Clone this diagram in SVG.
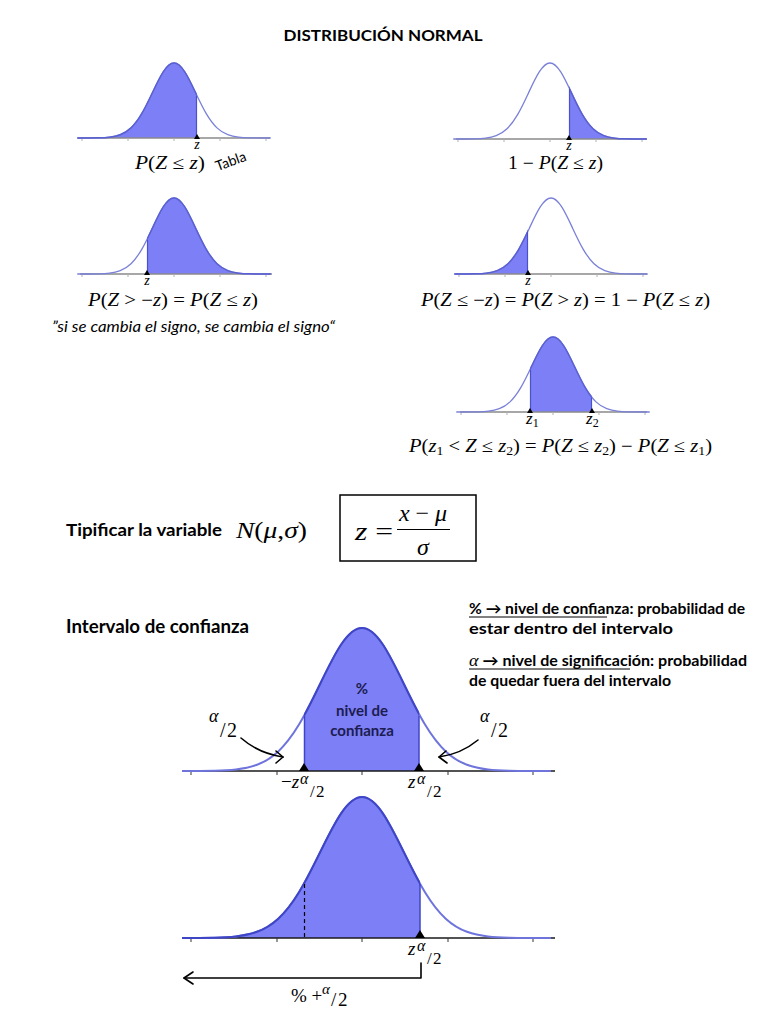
<svg xmlns="http://www.w3.org/2000/svg" xmlns:xlink="http://www.w3.org/1999/xlink" width="768" height="1024" viewBox="0 0 768 1024">
<style>
.bg{fill:#ffffff}
.fillA{fill:#7c7ff5;stroke:none}
.curveS{fill:none;stroke:#7a80d8;stroke-width:1.3}
.curveSd{fill:none;stroke:#5a60d2;stroke-width:1.5}
.curveB{fill:none;stroke:#6e74dc;stroke-width:2}
.curveBd{fill:none;stroke:#3f46c6;stroke-width:2}
.axisS{stroke:#8a8a8a;stroke-width:1.3;fill:none}
.axisB{stroke:#1a1a1a;stroke-width:1.5;fill:none}
.tickS{stroke:#b0b0b0;stroke-width:1}
.tickB{stroke:#333;stroke-width:1}
.tri{fill:#000}
.m{font-family:"Liberation Serif","DejaVu Serif",serif;fill:#000}
.i{font-style:italic}
.b{font-family:Lato,"Liberation Sans",sans-serif;font-weight:bold;fill:#000}
.s{font-family:Lato,"Liberation Sans",sans-serif;fill:#000}
.lbl{font-family:Lato,"Liberation Sans",sans-serif;font-weight:bold;font-size:15px;fill:#1c1c50;text-anchor:middle}
.arr{fill:none;stroke:#000;stroke-width:1.6;stroke-linecap:round;stroke-linejoin:round}
.cut{stroke:#4b51cc;stroke-width:1.2}
</style>
<defs>
<path id="g" vector-effect="non-scaling-stroke" d="M -4.5 0 C -4.1667 0 -3.8333 -0.0005 -3.5 -0.0022 C -3.3333 -0.0035 -3.1667 -0.0055 -3 -0.0111 C -2.8333 -0.0167 -2.6667 -0.0256 -2.5 -0.0439 C -2.3333 -0.0622 -2.1667 -0.0902 -2 -0.1353 C -1.8333 -0.1804 -1.6667 -0.2435 -1.5 -0.3247 C -1.3333 -0.4059 -1.1667 -0.5054 -1 -0.6065 C -0.8333 -0.7076 -0.6667 -0.8090 -0.5 -0.8825 C -0.3333 -0.9560 -0.1667 -1 0 -1 C 0.1667 -1 0.3333 -0.9560 0.5 -0.8825 C 0.6667 -0.8090 0.8333 -0.7076 1 -0.6065 C 1.1667 -0.5054 1.3333 -0.4059 1.5 -0.3247 C 1.6667 -0.2435 1.8333 -0.1804 2 -0.1353 C 2.1667 -0.0902 2.3333 -0.0622 2.5 -0.0439 C 2.6667 -0.0256 2.8333 -0.0167 3 -0.0111 C 3.1667 -0.0055 3.3333 -0.0035 3.5 -0.0022 C 3.8333 -0.0005 4.1667 0 4.5 0"/>
<path id="gf" d="M -4.5 0 C -4.1667 0 -3.8333 -0.0005 -3.5 -0.0022 C -3.3333 -0.0035 -3.1667 -0.0055 -3 -0.0111 C -2.8333 -0.0167 -2.6667 -0.0256 -2.5 -0.0439 C -2.3333 -0.0622 -2.1667 -0.0902 -2 -0.1353 C -1.8333 -0.1804 -1.6667 -0.2435 -1.5 -0.3247 C -1.3333 -0.4059 -1.1667 -0.5054 -1 -0.6065 C -0.8333 -0.7076 -0.6667 -0.8090 -0.5 -0.8825 C -0.3333 -0.9560 -0.1667 -1 0 -1 C 0.1667 -1 0.3333 -0.9560 0.5 -0.8825 C 0.6667 -0.8090 0.8333 -0.7076 1 -0.6065 C 1.1667 -0.5054 1.3333 -0.4059 1.5 -0.3247 C 1.6667 -0.2435 1.8333 -0.1804 2 -0.1353 C 2.1667 -0.0902 2.3333 -0.0622 2.5 -0.0439 C 2.6667 -0.0256 2.8333 -0.0167 3 -0.0111 C 3.1667 -0.0055 3.3333 -0.0035 3.5 -0.0022 C 3.8333 -0.0005 4.1667 0 4.5 0 Z"/>
<clipPath id="c1"><rect x="0" y="0" width="197" height="200"/></clipPath>
<clipPath id="c2"><rect x="569" y="0" width="199" height="200"/></clipPath>
<clipPath id="c3"><rect x="147" y="180" width="200" height="100"/></clipPath>
<clipPath id="c4"><rect x="400" y="180" width="128" height="100"/></clipPath>
<clipPath id="c5"><rect x="530" y="320" width="62" height="100"/></clipPath>
<clipPath id="cA"><rect x="304" y="600" width="115" height="175"/></clipPath>
<clipPath id="cB"><rect x="182" y="780" width="238" height="160"/></clipPath>
<clipPath id="cX"><rect x="182" y="600" width="373" height="360"/></clipPath>
</defs>
<rect class="bg" x="0" y="0" width="768" height="1024"/>

<text id="title" class="b" x="383" y="41" font-size="16" text-anchor="middle" textLength="199" lengthAdjust="spacingAndGlyphs">DISTRIBUCIÓN NORMAL</text>

<!-- Panel 1 -->
<g id="panel1">
  <g clip-path="url(#c1)"><use href="#gf" class="fillA" transform="translate(174,138) scale(21.5,75)"/></g>
  <line class="axisS" x1="78" y1="138" x2="270" y2="138"/>
  <path class="tickS" d="M82 138v3M128 138v3M174 138v3M220 138v3M266 138v3"/>
  <use href="#g" class="curveS" transform="translate(174,138) scale(21.5,75)"/>
  <g clip-path="url(#c1)"><use href="#g" class="curveSd" transform="translate(174,138) scale(21.5,75)"/></g>
  <line class="cut" x1="196.5" y1="96" x2="196.5" y2="138"/>
  <polygon class="tri" points="197,134 194,139 200,139"/>
  <text class="m i" x="197" y="149" font-size="14" text-anchor="middle">z</text>
  <text class="m" x="135" y="169" font-size="18" textLength="70" lengthAdjust="spacingAndGlyphs"><tspan class="i">P</tspan>(<tspan class="i">Z</tspan> ≤ <tspan class="i">z</tspan>)</text>
  <text class="s" x="231" y="166" font-size="14" text-anchor="middle" transform="rotate(-20 231 162)">Tabla</text>
</g>

<!-- Panel 2 -->
<g id="panel2">
  <g clip-path="url(#c2)"><use href="#gf" class="fillA" transform="translate(550,139) scale(21.5,76)"/></g>
  <line class="axisS" x1="456" y1="139" x2="647" y2="139"/>
  <path class="tickS" d="M458 139v3M504 139v3M550 139v3M596 139v3M642 139v3"/>
  <use href="#g" class="curveS" transform="translate(550,139) scale(21.5,76)"/>
  <g clip-path="url(#c2)"><use href="#g" class="curveSd" transform="translate(550,139) scale(21.5,76)"/></g>
  <line class="cut" x1="569.5" y1="89" x2="569.5" y2="139"/>
  <polygon class="tri" points="569,135 566,140 572,140"/>
  <text class="m i" x="569" y="150" font-size="14" text-anchor="middle">z</text>
  <text class="m" x="508" y="169" font-size="18" textLength="95" lengthAdjust="spacingAndGlyphs">1 − <tspan class="i">P</tspan>(<tspan class="i">Z</tspan> ≤ <tspan class="i">z</tspan>)</text>
</g>

<!-- Panel 3 -->
<g id="panel3">
  <g clip-path="url(#c3)"><use href="#gf" class="fillA" transform="translate(174,274) scale(21.5,76)"/></g>
  <line class="axisS" x1="80" y1="274" x2="272" y2="274"/>
  <path class="tickS" d="M82 274v3M128 274v3M174 274v3M220 274v3M266 274v3"/>
  <use href="#g" class="curveS" transform="translate(174,274) scale(21.5,76)"/>
  <g clip-path="url(#c3)"><use href="#g" class="curveSd" transform="translate(174,274) scale(21.5,76)"/></g>
  <line class="cut" x1="147.5" y1="240" x2="147.5" y2="274"/>
  <polygon class="tri" points="147,270 144,275 150,275"/>
  <text class="m i" x="147" y="285" font-size="14" text-anchor="middle">z</text>
  <text class="m" x="88" y="306" font-size="18" textLength="170" lengthAdjust="spacingAndGlyphs"><tspan class="i">P</tspan>(<tspan class="i">Z</tspan> &gt; −<tspan class="i">z</tspan>) = <tspan class="i">P</tspan>(<tspan class="i">Z</tspan> ≤ <tspan class="i">z</tspan>)</text>
  <text class="s i" x="52" y="332" font-size="15" textLength="283" lengthAdjust="spacingAndGlyphs">”si se cambia el signo, se cambia el signo“</text>
</g>

<!-- Panel 4 -->
<g id="panel4">
  <g clip-path="url(#c4)"><use href="#gf" class="fillA" transform="translate(551,274) scale(21.5,76)"/></g>
  <line class="axisS" x1="456" y1="274" x2="647" y2="274"/>
  <path class="tickS" d="M459 274v3M505 274v3M551 274v3M597 274v3M643 274v3"/>
  <use href="#g" class="curveS" transform="translate(551,274) scale(21.5,76)"/>
  <g clip-path="url(#c4)"><use href="#g" class="curveSd" transform="translate(551,274) scale(21.5,76)"/></g>
  <line class="cut" x1="527.5" y1="232" x2="527.5" y2="274"/>
  <polygon class="tri" points="528,270 525,275 531,275"/>
  <text class="m i" x="528" y="285" font-size="14" text-anchor="middle">z</text>
  <text class="m" x="421" y="306" font-size="18" textLength="289" lengthAdjust="spacingAndGlyphs"><tspan class="i">P</tspan>(<tspan class="i">Z</tspan> ≤ −<tspan class="i">z</tspan>) = <tspan class="i">P</tspan>(<tspan class="i">Z</tspan> &gt; <tspan class="i">z</tspan>) = 1 − <tspan class="i">P</tspan>(<tspan class="i">Z</tspan> ≤ <tspan class="i">z</tspan>)</text>
</g>

<!-- Panel 5 -->
<g id="panel5">
  <g clip-path="url(#c5)"><use href="#gf" class="fillA" transform="translate(553,412) scale(21.5,75)"/></g>
  <line class="axisS" x1="460" y1="412" x2="647" y2="412"/>
  <path class="tickS" d="M461 412v3M507 412v3M553 412v3M599 412v3M645 412v3"/>
  <use href="#g" class="curveS" transform="translate(553,412) scale(21.5,75)"/>
  <g clip-path="url(#c5)"><use href="#g" class="curveSd" transform="translate(553,412) scale(21.5,75)"/></g>
  <line class="cut" x1="530.5" y1="370" x2="530.5" y2="412"/>
  <line class="cut" x1="591.5" y1="398" x2="591.5" y2="412"/>
  <polygon class="tri" points="530,408 527,413 533,413"/>
  <polygon class="tri" points="592,408 589,413 595,413"/>
  <text class="m i" x="526" y="424" font-size="17">z<tspan font-size="12" font-style="normal" dy="3">1</tspan></text>
  <text class="m i" x="586" y="424" font-size="17">z<tspan font-size="12" font-style="normal" dy="3">2</tspan></text>
  <text class="m" x="409" y="452" font-size="18" textLength="303" lengthAdjust="spacingAndGlyphs"><tspan class="i">P</tspan>(<tspan class="i">z</tspan><tspan font-size="12" dy="3">1</tspan><tspan dy="-3"> &lt; </tspan><tspan class="i">Z</tspan> ≤ <tspan class="i">z</tspan><tspan font-size="12" dy="3">2</tspan><tspan dy="-3">) = </tspan><tspan class="i">P</tspan>(<tspan class="i">Z</tspan> ≤ <tspan class="i">z</tspan><tspan font-size="12" dy="3">2</tspan><tspan dy="-3">) − </tspan><tspan class="i">P</tspan>(<tspan class="i">Z</tspan> ≤ <tspan class="i">z</tspan><tspan font-size="12" dy="3">1</tspan><tspan dy="-3">)</tspan></text>
</g>

<!-- Tipificar -->
<g id="tipificar">
  <text class="b" x="66" y="536" font-size="17" textLength="156" lengthAdjust="spacingAndGlyphs">Tipificar la variable</text>
  <text class="m" x="236" y="538" font-size="23" textLength="71" lengthAdjust="spacingAndGlyphs"><tspan class="i">N</tspan>(<tspan class="i">μ</tspan>,<tspan class="i">σ</tspan>)</text>
  <rect x="340" y="495" width="136" height="66" fill="none" stroke="#000" stroke-width="1.5"/>
  <text class="m" x="355" y="540" font-size="25" textLength="38" lengthAdjust="spacingAndGlyphs"><tspan class="i">z</tspan> =</text>
  <text class="m" x="423" y="521" font-size="24" text-anchor="middle"><tspan class="i">x</tspan> − <tspan class="i">μ</tspan></text>
  <line x1="397" y1="529.5" x2="450" y2="529.5" stroke="#000" stroke-width="1.2"/>
  <text class="m i" x="423" y="555" font-size="24" text-anchor="middle">σ</text>
</g>

<!-- Intervalo de confianza heading and notes -->
<g id="intervalo">
  <text class="b" x="66" y="633" font-size="18" textLength="183" lengthAdjust="spacingAndGlyphs">Intervalo de confianza</text>
  <text class="b" x="469" y="614" font-size="15" textLength="276" lengthAdjust="spacingAndGlyphs">% → nivel de confianza: probabilidad de</text>
  <line x1="469" y1="617" x2="607" y2="617" stroke="#000" stroke-width="1"/>
  <text class="b" x="469" y="634" font-size="15" textLength="204" lengthAdjust="spacingAndGlyphs">estar dentro del intervalo</text>
  <text class="b" x="469" y="666" font-size="15" textLength="278" lengthAdjust="spacingAndGlyphs"><tspan font-family="Liberation Serif" font-style="italic" font-weight="normal" font-size="17">α</tspan>  → nivel de significación: probabilidad</text>
  <line x1="469" y1="669" x2="630" y2="669" stroke="#000" stroke-width="1"/>
  <text class="b" x="469" y="686" font-size="15" textLength="202" lengthAdjust="spacingAndGlyphs">de quedar fuera del intervalo</text>
</g>

<!-- Big curve A -->
<g id="curveA">
  <g clip-path="url(#cA)"><use href="#gf" class="fillA" transform="translate(362,771) scale(42,143)"/></g>
  <line class="axisB" x1="182" y1="771" x2="555" y2="771"/>
  <path class="tickB" d="M191 771v4M277 771v4M362 771v4M448 771v4M533 771v4"/>
  <g clip-path="url(#cX)"><use href="#g" class="curveB" transform="translate(362,771) scale(42,143)"/></g>
  <g clip-path="url(#cA)"><use href="#g" class="curveBd" transform="translate(362,771) scale(42,143)"/></g>
  <line x1="304.5" y1="716" x2="304.5" y2="771" stroke="#3f46c6" stroke-width="1.5"/>
  <line x1="419" y1="716" x2="419" y2="771" stroke="#3f46c6" stroke-width="1.5"/>
  <polygon class="tri" points="304,763 299,771 309,771"/>
  <polygon class="tri" points="419,763 414,771 424,771"/>
  <text class="lbl" x="362" y="694">%</text>
  <text class="lbl" x="362" y="716">nivel de</text>
  <text class="lbl" x="362" y="736">confianza</text>
  <text class="m i" x="209" y="722" font-size="18">α</text>
  <text class="m" x="220" y="737" font-size="20">/</text>
  <text class="m" x="227" y="737" font-size="20">2</text>
  <text class="m i" x="480" y="722" font-size="18">α</text>
  <text class="m" x="491" y="737" font-size="20">/</text>
  <text class="m" x="498" y="737" font-size="20">2</text>
  <text class="m" x="281" y="788" font-size="19">−<tspan class="i">z</tspan></text>
  <text class="m i" x="300" y="784" font-size="16">α</text>
  <text class="m" x="310" y="797" font-size="17">/</text>
  <text class="m" x="316" y="797" font-size="17">2</text>
  <text class="m i" x="408" y="788" font-size="19">z</text>
  <text class="m i" x="417" y="784" font-size="16">α</text>
  <text class="m" x="427" y="797" font-size="17">/</text>
  <text class="m" x="433" y="797" font-size="17">2</text>
</g>

<!-- Big curve B -->
<g id="curveB">
  <g clip-path="url(#cB)"><use href="#gf" class="fillA" transform="translate(362,938) scale(42,141)"/></g>
  <line class="axisB" x1="182" y1="938" x2="555" y2="938"/>
  <path class="tickB" d="M191 938v4M277 938v4M362 938v4M448 938v4M533 938v4"/>
  <g clip-path="url(#cX)"><use href="#g" class="curveB" transform="translate(362,938) scale(42,141)"/></g>
  <g clip-path="url(#cB)"><use href="#g" class="curveBd" transform="translate(362,938) scale(42,141)"/></g>
  <line x1="420" y1="884" x2="420" y2="938" stroke="#3f46c6" stroke-width="1.5"/>
  <line x1="304.5" y1="884" x2="304.5" y2="938" stroke="#000" stroke-width="1.2" stroke-dasharray="4,3"/>
  <polygon class="tri" points="420,930 415,938 425,938"/>
  <text class="m i" x="408" y="955" font-size="19">z</text>
  <text class="m i" x="417" y="951" font-size="16">α</text>
  <text class="m" x="427" y="964" font-size="17">/</text>
  <text class="m" x="433" y="964" font-size="17">2</text>
</g>

<!-- connectors / arrows -->
<g id="connectors">
  <path class="arr" d="M241 738 Q258 753 283 757"/>
  <path class="arr" d="M276 751 L283 757 L276 763"/>
  <path class="arr" d="M478 740 Q461 754 439 757"/>
  <path class="arr" d="M446 751 L439 757 L447 763"/>
  <path class="arr" d="M421 963 L421 978 L184 978"/>
  <path class="arr" d="M193 972 L184 978 L193 984"/>
</g>
<g id="bottomLabel">
  <text class="m" x="291" y="1002" font-size="19">% +</text>
  <text class="m i" x="322" y="994" font-size="15">α</text>
  <text class="m" x="331" y="1006" font-size="19">/</text>
  <text class="m" x="338" y="1006" font-size="19">2</text>
</g>
</svg>
